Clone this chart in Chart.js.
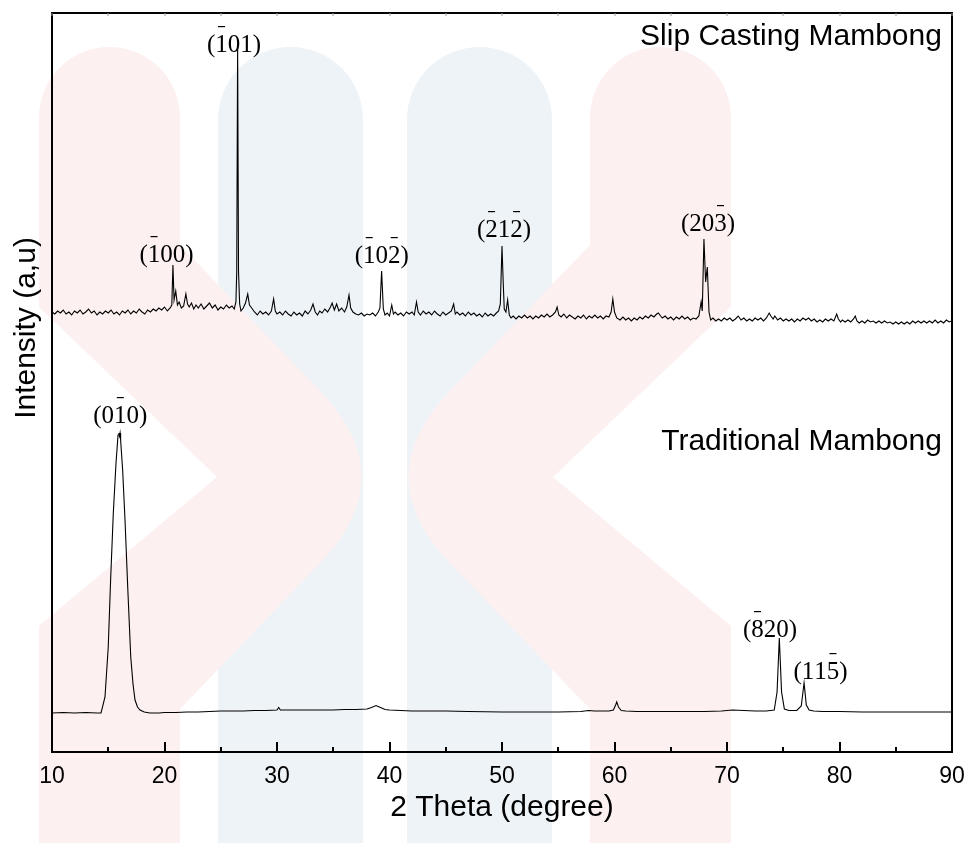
<!DOCTYPE html>
<html>
<head>
<meta charset="utf-8">
<title>XRD Mambong</title>
<script src="https://cdn.jsdelivr.net/npm/chart.js@4.4.0/dist/chart.umd.min.js"></script>
<style>
    html, body { margin: 0; padding: 0; background: #fff; }
    #wrap { width: 969px; height: 843px; position: relative; }
</style>
</head>
<body>
<div id="wrap"><canvas id="xrdChart"></canvas></div>
<script>
// x axis (2 theta, degree)
const thetaMin = 10;
const thetaMax = 90;
const thetaMajor = 10;
const thetaMinor = 5;
// y axis is arbitrary units, the slip casting pattern is stacked above
const intensityMin = 0;
const intensityMax = 739;

// Slip Casting Mambong: [2theta, intensity]
const slipCasting = [
    [10.0,440],[10.25,438],[10.5,441],[10.75,439],[11.0,442],[11.25,438],[11.5,440],[11.75,437],
    [12.0,441],[12.25,439],[12.5,442],[12.75,438],[13.0,440],[13.25,443],[13.5,439],[13.75,441],
    [14.0,437],[14.25,440],[14.5,438],[14.75,441],[15.0,439],[15.25,442],[15.5,438],[15.75,440],
    [16.0,437],[16.25,441],[16.5,439],[16.75,442],[17.0,438],[17.25,441],[17.5,439],[17.75,443],
    [18.0,440],[18.25,438],[18.5,442],[18.75,440],[19.0,443],[19.25,441],[19.5,444],[19.75,442],
    [20.0,445],[20.25,441],[20.5,444],[20.65,447],[20.75,487],[20.85,452],[21.0,461],[21.15,447],
    [21.3,450],[21.5,444],[21.7,446],[21.9,458],[22.05,448],[22.2,445],[22.4,449],[22.6,443],
    [22.8,447],[23.0,444],[23.25,448],[23.5,443],[23.75,446],[24.0,449],[24.25,444],[24.5,447],
    [24.75,442],[25.0,445],[25.25,443],[25.5,447],[25.75,444],[26.0,446],[26.2,443],[26.35,450],
    [26.42,480],[26.5,705],[26.58,480],[26.68,448],[26.8,441],[27.0,444],[27.2,449],[27.4,458],
    [27.55,447],[27.75,444],[28.0,440],[28.25,437],[28.5,441],[28.75,438],[29.0,440],[29.25,437],
    [29.5,441],[29.7,453],[29.85,441],[30.0,438],[30.25,440],[30.5,437],[30.75,441],[31.0,438],
    [31.25,436],[31.5,440],[31.75,437],[32.0,439],[32.25,436],[32.5,441],[32.75,438],[33.0,442],
    [33.2,448],[33.4,440],[33.6,437],[33.8,441],[34.0,439],[34.25,443],[34.5,440],[34.75,445],
    [34.9,449],[35.1,442],[35.3,448],[35.5,441],[35.75,444],[36.0,440],[36.2,445],[36.4,457],
    [36.55,444],[36.75,440],[37.0,438],[37.25,437],[37.5,439],[37.75,436],[38.0,438],[38.25,437],
    [38.5,439],[38.75,436],[39.0,440],[39.15,444],[39.3,481],[39.45,443],[39.6,437],[39.8,439],
    [40.0,436],[40.2,447],[40.35,438],[40.5,440],[40.75,437],[41.0,439],[41.25,436],[41.5,440],
    [41.75,438],[42.0,440],[42.2,437],[42.4,450],[42.55,440],[42.75,437],[43.0,441],[43.25,438],
    [43.5,440],[43.75,437],[44.0,441],[44.25,438],[44.5,436],[44.75,440],[45.0,437],[45.25,439],
    [45.5,441],[45.7,448],[45.85,438],[46.0,440],[46.25,437],[46.5,439],[46.75,436],[47.0,440],
    [47.25,437],[47.5,439],[47.75,436],[48.0,438],[48.25,435],[48.5,439],[48.75,436],[49.0,438],
    [49.25,436],[49.5,439],[49.7,441],[49.85,448],[50.0,506],[50.1,472],[50.2,443],[50.35,440],
    [50.5,452],[50.65,437],[50.8,434],[51.0,436],[51.25,433],[51.5,436],[51.75,434],[52.0,437],
    [52.25,434],[52.5,436],[52.75,433],[53.0,436],[53.25,434],[53.5,437],[53.75,435],[54.0,438],
    [54.25,435],[54.5,437],[54.75,440],[54.9,445],[55.05,437],[55.25,435],[55.5,438],[55.75,434],
    [56.0,437],[56.25,435],[56.5,433],[56.75,436],[57.0,434],[57.25,437],[57.5,433],[57.75,436],
    [58.0,434],[58.25,437],[58.5,434],[58.75,436],[59.0,433],[59.25,436],[59.5,435],[59.7,440],
    [59.85,453],[60.0,440],[60.2,434],[60.5,432],[60.75,435],[61.0,432],[61.25,434],[61.5,431],
    [61.75,434],[62.0,432],[62.25,435],[62.5,433],[62.75,436],[63.0,434],[63.25,437],[63.5,435],
    [63.75,438],[63.9,439],[64.1,436],[64.25,434],[64.5,436],[64.75,433],[65.0,435],[65.25,432],
    [65.5,435],[65.75,433],[66.0,436],[66.25,433],[66.5,435],[66.75,432],[67.0,434],[67.25,433],
    [67.5,436],[67.7,450],[67.8,441],[67.95,513],[68.1,470],[68.25,485],[68.4,440],[68.55,432],
    [68.75,434],[69.0,431],[69.25,433],[69.5,431],[69.75,434],[70.0,432],[70.25,434],[70.5,431],
    [70.75,433],[71.0,436],[71.25,432],[71.5,434],[71.75,431],[72.0,433],[72.25,431],[72.5,434],
    [72.75,432],[73.0,434],[73.25,431],[73.5,434],[73.75,439],[73.9,436],[74.1,433],[74.25,436],
    [74.5,432],[74.75,434],[75.0,431],[75.25,433],[75.5,431],[75.75,433],[76.0,430],[76.25,433],
    [76.5,431],[76.75,434],[77.0,432],[77.25,434],[77.5,431],[77.75,433],[78.0,430],[78.25,432],
    [78.5,430],[78.75,433],[79.0,431],[79.25,433],[79.5,431],[79.75,438],[79.9,433],[80.1,430],
    [80.25,432],[80.5,430],[80.75,432],[81.0,430],[81.25,433],[81.4,436],[81.55,431],[81.75,429],
    [82.0,431],[82.25,429],[82.5,432],[82.75,430],[83.0,431],[83.25,429],[83.5,431],[83.75,429],
    [84.0,431],[84.25,429],[84.5,430],[84.75,428],[85.0,430],[85.25,428],[85.5,430],[85.75,428],
    [86.0,430],[86.25,428],[86.5,431],[86.75,429],[87.0,431],[87.25,429],[87.5,431],[87.75,429],
    [88.0,431],[88.25,429],[88.5,432],[88.75,429],[89.0,431],[89.25,429],[89.5,432],[89.75,430],
    [90.0,431]
];

// Traditional Mambong: [2theta, intensity]
const traditional = [
    [10,39],[11,39.5],[12,39],[13,39.5],[14,39],[14.36,39],[14.71,55],[15.0,105],[15.21,172],
    [15.45,239],[15.69,289],[15.87,317],[15.95,319],[16.0,316],[16.05,319],[16.1,312],[16.28,282],
    [16.49,232],[16.73,165],[17.0,95],[17.2,68],[17.38,52],[17.6,45],[17.82,42],[18.2,40],
    [18.7,39],[19.5,39],[20,39.5],[21,39.5],[22,40],[23,40],[24,40.5],[25,41],[26,41],[27,41],
    [28,41.5],[29,41.5],[30,42],[30.15,44.5],[30.3,42],[31,42],[32,42],[33,42],[34,42],[35,42],
    [36,42.5],[37,42.5],[38,43],[38.4,44.5],[38.8,46.5],[39.2,44.5],[39.6,42.5],[40,42],[41,41.5],
    [42,41],[43,41],[45,41],[47,40.5],[50,40],[52,40],[55,40],[57,40.5],[57.7,41.5],[58.2,41],
    [59.5,41],[59.9,42],[60.1,47],[60.2,50],[60.35,45],[60.6,41.5],[61,41],[62,40.5],[64,40.5],
    [66,40.5],[68,40.5],[69.5,41],[70.5,42],[71.5,41.5],[72.5,41],[73.5,41],[74.2,42],[74.45,60],
    [74.65,114],[74.85,60],[75.1,43],[75.5,41.5],[76.2,41.5],[76.6,46],[76.85,69],[77.05,47],
    [77.3,42],[77.7,41],[78.5,40.5],[80,40.5],[82,40],[84,40],[86,40],[88,40],[90,40]
];

// Miller indices, '-' puts a bar over the next digit
const peakLabels = [
    { text: '(-100)', theta: 20.18, y: 490 },
    { text: '(-101)', theta: 26.18, y: 700 },
    { text: '(-10-2)', theta: 39.31, y: 489 },
    { text: '(-21-2)', theta: 50.18, y: 515 },
    { text: '(20-3)', theta: 68.31, y: 521 },
    { text: '(0-10)', theta: 16.07, y: 329 },
    { text: '(-820)', theta: 73.82, y: 115 },
    { text: '(11-5)', theta: 78.31, y: 73 }
];

const seriesNames = ['Slip Casting Mambong', 'Traditional Mambong'];
const seriesNameY = [707, 302];
const nameTheta = 89.1;

const sans = "'Liberation Sans', Arial, sans-serif";
const serif = "'Liberation Serif', 'Times New Roman', serif";

function pill(ctx, x0, x1, top) {
    const r = (x1 - x0) / 2;
    ctx.beginPath();
    ctx.moveTo(x0, 843);
    ctx.lineTo(x0, top + r);
    ctx.arc(x0 + r, top + r, r, Math.PI, 0);
    ctx.lineTo(x1, 843);
    ctx.closePath();
    ctx.fill();
}

function chevron(ctx, mirrored) {
    ctx.save();
    if (mirrored) { ctx.translate(770, 0); ctx.scale(-1, 1); }
    ctx.beginPath();
    ctx.moveTo(39, 843);
    ctx.lineTo(39, 626);
    ctx.lineTo(217, 477);
    ctx.lineTo(39, 307);
    ctx.lineTo(39, 117.5);
    ctx.arc(109.5, 117.5, 70.5, Math.PI, 0);
    ctx.lineTo(180, 245);
    ctx.lineTo(323, 394);
    ctx.quadraticCurveTo(400, 477, 323, 560);
    ctx.lineTo(180, 709);
    ctx.lineTo(180, 843);
    ctx.closePath();
    ctx.fill();
    ctx.restore();
}

// faint logo behind the figure
const watermark = {
    id: 'watermark',
    beforeDraw(chart) {
        const ctx = chart.ctx;
        ctx.save();
        ctx.fillStyle = '#ffffff';
        ctx.fillRect(0, 0, chart.width, chart.height);
        ctx.fillStyle = 'rgb(238,243,248)';
        pill(ctx, 218, 363, 47);
        pill(ctx, 407, 552, 47);
        ctx.fillStyle = 'rgb(253,240,240)';
        chevron(ctx, false);
        chevron(ctx, true);
        ctx.restore();
    }
};

function drawIndex(ctx, text, cx, baseY) {
    const chars = [];
    let bar = false;
    for (const ch of text) {
        if (ch === '-') { bar = true; continue; }
        chars.push({ ch, bar });
        bar = false;
    }
    const total = chars.reduce((s, c) => s + ctx.measureText(c.ch).width, 0);
    let x = cx - total / 2;
    chars.forEach(c => {
        const w = ctx.measureText(c.ch).width;
        ctx.fillText(c.ch, x, baseY);
        if (c.bar) ctx.fillRect(x + w * 0.22, baseY - 26, w * 0.56, 1.2);
        x += w;
    });
}

const frame = {
    id: 'frame',
    afterDraw(chart) {
        const { ctx, chartArea: a, scales: { x, y } } = chart;
        ctx.save();
        ctx.strokeStyle = '#000';
        ctx.lineWidth = 2;
        ctx.strokeRect(a.left, a.top, a.right - a.left, a.bottom - a.top);

        // inward ticks on the bottom, small ones on top
        for (let v = thetaMin; v <= thetaMax; v += thetaMinor) {
            const px = Math.round(x.getPixelForValue(v));
            const major = v % thetaMajor === 0;
            ctx.strokeStyle = '#000';
            ctx.lineWidth = 2;
            ctx.beginPath();
            ctx.moveTo(px, a.bottom);
            ctx.lineTo(px, a.bottom - (major ? 10 : 5));
            ctx.stroke();
            ctx.strokeStyle = '#9a9a9a';
            ctx.lineWidth = 1;
            ctx.beginPath();
            ctx.moveTo(px, a.top);
            ctx.lineTo(px, a.top + 3);
            ctx.stroke();
        }

        ctx.fillStyle = '#000';
        ctx.font = '25px ' + serif;
        ctx.textAlign = 'left';
        ctx.textBaseline = 'alphabetic';
        peakLabels.forEach(l => drawIndex(ctx, l.text, x.getPixelForValue(l.theta), y.getPixelForValue(l.y)));

        ctx.font = '30px ' + sans;
        ctx.textAlign = 'right';
        seriesNames.forEach((n, i) => ctx.fillText(n, x.getPixelForValue(nameTheta), y.getPixelForValue(seriesNameY[i])));

        // y title sits a bit above the middle, as in the figure
        ctx.translate(27, 328);
        ctx.rotate(-Math.PI / 2);
        ctx.textAlign = 'center';
        ctx.textBaseline = 'middle';
        ctx.fillText('Intensity (a,u)', 0, 0);
        ctx.restore();
    }
};

const toPoints = arr => arr.map(([t, v]) => ({ x: t, y: v }));

new Chart(document.getElementById('xrdChart'), {
    type: 'line',
    data: {
        datasets: [
            { label: seriesNames[0], data: toPoints(slipCasting), borderColor: '#000', borderWidth: 1.1, pointRadius: 0, tension: 0 },
            { label: seriesNames[1], data: toPoints(traditional), borderColor: '#000', borderWidth: 1.1, pointRadius: 0, tension: 0 }
        ]
    },
    options: {
        responsive: true,
        maintainAspectRatio: false,
        animation: false,
        layout: { padding: { left: 52, right: 17, top: 13, bottom: 0 } },
        plugins: { legend: { display: false }, tooltip: { enabled: false } },
        scales: {
            x: {
                type: 'linear',
                min: thetaMin,
                max: thetaMax,
                grid: { display: false, drawTicks: false },
                border: { display: false },
                ticks: { stepSize: thetaMajor, color: '#000', padding: 11, font: { family: sans, size: 23 } },
                title: { display: true, text: '2 Theta (degree)', color: '#000', font: { family: sans, size: 30 }, padding: { top: 0, bottom: 17 } },
                afterFit(scale) {
                    scale.height = 91;
                    scale.paddingLeft = 0;
                    scale.paddingRight = 0;
                }
            },
            y: {
                type: 'linear',
                display: false,
                min: intensityMin,
                max: intensityMax
            }
        }
    },
    plugins: [watermark, frame]
});
</script>
</body>
</html>
